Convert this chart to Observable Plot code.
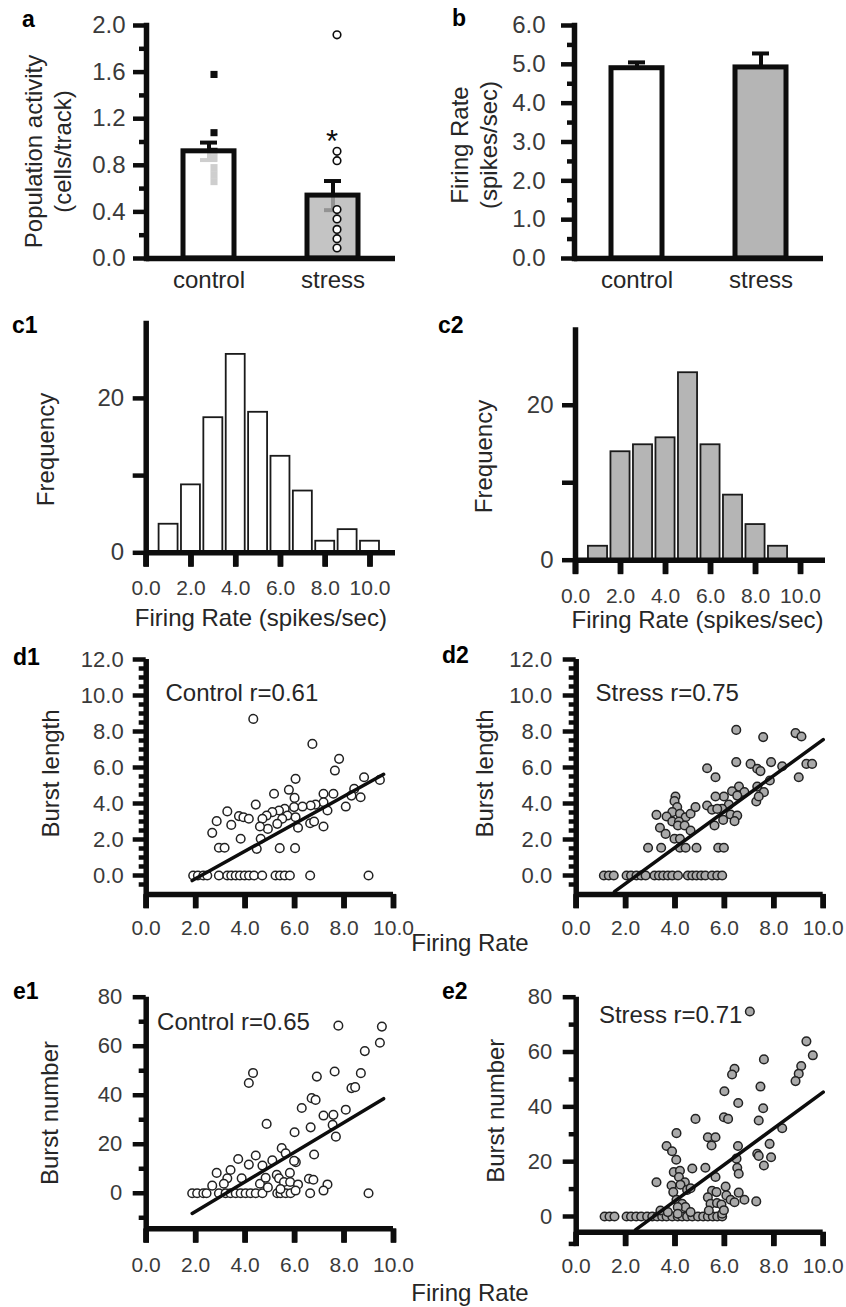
<!DOCTYPE html>
<html><head><meta charset="utf-8">
<script src="https://cdn.jsdelivr.net/npm/d3@7"></script>
<script src="https://cdn.jsdelivr.net/npm/@observablehq/plot@0.6"></script>
<style>
html,body{margin:0;padding:0;background:#fff;}
#fig{position:relative;width:846px;height:1307px;overflow:hidden;font-family:"Liberation Sans",Arial,Helvetica,sans-serif;}
.letter{position:absolute;font-weight:bold;font-size:23px;line-height:1;color:#000;}
.xlab{position:absolute;font-size:24px;line-height:1;color:#262626;white-space:nowrap;transform:translateX(-50%);}
</style></head><body><div id="fig"></div>
<script>
// ---------- data ----------
const groups = ["control", "stress"];
const activityMean = [0.92, 0.54];
const activitySem = [0.075, 0.125];
const activityControl = [1.58, 1.08, 0.92, 0.86, 0.78, 0.72, 0.66];
const activityStress = [1.92, 0.92, 0.84, 0.42, 0.34, 0.25, 0.17, 0.09];
const sigMark = "*";
const rateMean = [4.9, 4.92];
const rateSem = [0.15, 0.36];

const binEdges = [0.5, 1.5, 2.5, 3.5, 4.5, 5.5, 6.5, 7.5, 8.5, 9.5, 10.5];
const freqControl = [3.7, 8.8, 17.5, 25.7, 18.2, 12.5, 8.0, 1.5, 3.0, 1.5];
const freqStress = [1.8, 14.0, 14.9, 15.8, 24.2, 14.9, 8.4, 4.6, 1.8, 0];

// burst length vs firing rate
const d1Zero = [1.90,2.09,2.31,2.47,2.94,3.28,3.44,3.62,3.79,3.98,4.16,4.36,4.69,5.23,5.41,5.60,5.81,6.63,8.99];
const d1Control = [[4.33,8.70],[6.72,7.31],[7.80,6.48],[7.63,5.83],[8.81,5.46],[9.45,5.31],[6.04,5.37],[5.77,4.76],[5.17,4.54],[6.00,4.31],[4.43,3.94],[7.17,4.54],[7.57,4.54],[8.41,4.81],[8.30,4.44],[8.67,4.35],[8.07,3.83],[7.33,3.61],[7.17,4.07],[6.85,3.94],[6.65,3.89],[6.32,3.83],[5.98,3.80],[5.60,3.70],[5.37,3.61],[5.10,3.52],[4.87,3.33],[4.70,3.15],[5.71,3.33],[6.04,3.24],[5.50,3.15],[5.30,2.87],[4.92,2.59],[4.60,2.72],[6.14,2.65],[6.63,2.90],[6.79,3.00],[7.17,2.72],[3.28,3.56],[2.85,3.02],[2.67,2.37],[3.44,2.81],[3.75,3.30],[3.93,3.24],[4.15,3.15],[3.82,2.04],[2.94,1.54],[3.17,1.54],[4.47,1.48],[4.63,2.04],[5.40,1.52],[6.02,1.52]];
const d2Zero = [1.12,1.32,1.52,2.04,2.22,2.44,2.63,2.81,3.17,3.35,3.52,3.71,3.89,4.12,4.52,4.70,4.87,5.06,5.23,5.50,5.71,5.91];
const d2Stress = [[6.48,8.09],[7.57,7.69],[8.88,7.91],[9.12,7.72],[6.48,6.30],[7.06,6.20],[7.33,5.93],[7.46,5.80],[7.89,6.30],[8.34,6.07],[9.32,6.20],[9.55,6.20],[9.01,5.46],[5.30,5.96],[5.64,5.46],[7.33,4.94],[7.60,4.63],[7.29,4.11],[7.39,4.39],[7.84,5.28],[6.59,4.94],[6.31,4.68],[6.81,4.63],[6.52,4.44],[5.98,4.39],[5.64,4.39],[6.18,3.94],[5.91,3.70],[6.25,3.39],[6.52,3.33],[6.41,3.02],[5.30,3.89],[5.50,3.65],[5.71,3.70],[5.95,3.09],[5.60,2.78],[4.02,4.39],[3.98,4.13],[4.09,3.80],[3.89,3.52],[4.20,3.43],[4.43,3.24],[4.63,3.43],[4.83,3.80],[3.66,3.28],[3.25,3.37],[3.89,3.00],[4.16,3.00],[4.12,2.78],[4.39,2.78],[4.63,2.50],[3.39,2.65],[3.62,2.31],[3.98,2.04],[4.20,2.04],[2.91,1.54],[3.44,1.54],[4.20,1.54],[4.43,1.54],[4.87,1.54],[5.75,1.54],[5.98,1.54]];

// burst number vs firing rate
const e1Zero = [1.86,2.06,2.31,2.44,2.94,3.21,3.41,3.62,3.82,4.02,4.22,4.43,4.70,5.30,5.43,5.64,5.84,6.63,8.99];
const e1Control = [[7.77,68.4],[9.53,68.0],[9.45,61.4],[8.84,58.0],[8.68,49.0],[7.62,49.7],[6.90,47.6],[4.32,49.1],[4.15,45.0],[8.30,42.9],[8.45,43.3],[6.69,38.8],[6.85,38.1],[6.29,34.8],[8.07,34.1],[7.17,31.7],[7.57,32.0],[7.54,27.9],[7.67,23.1],[6.65,26.9],[6.00,24.9],[4.87,28.3],[6.79,15.8],[5.48,18.4],[5.64,16.3],[6.05,12.7],[5.98,13.2],[5.10,13.4],[4.70,11.3],[4.43,15.4],[4.15,11.7],[3.72,14.0],[3.41,9.5],[2.85,8.3],[3.28,6.1],[3.86,6.1],[2.67,3.1],[3.14,3.9],[4.60,3.9],[4.83,6.3],[5.28,7.5],[5.37,6.1],[5.81,8.3],[5.57,4.6],[5.82,4.6],[6.14,3.6],[6.58,5.9],[6.76,5.5],[7.33,3.6],[7.17,1.1],[4.92,2.4],[5.43,1.7],[6.04,1.1]];
const e2Zero = [1.15,1.35,1.55,2.04,2.22,2.43,2.63,2.87,3.08,3.28,3.48,3.66,3.89,4.11,4.29,4.49,4.70,4.93,5.14,5.33,5.53,5.71,5.91];
const e2Stress = [[9.32,63.9],[9.58,58.8],[9.11,54.9],[9.01,52.1],[8.88,49.4],[7.60,57.3],[6.41,53.9],[6.31,51.8],[7.46,47.4],[6.00,45.7],[6.56,41.4],[7.57,39.5],[5.98,36.2],[6.15,35.6],[7.39,35.0],[8.34,32.2],[4.83,35.6],[4.06,30.4],[5.33,28.9],[5.64,28.9],[5.48,25.9],[3.66,25.7],[3.88,23.8],[4.05,20.7],[6.55,25.7],[7.83,26.5],[7.33,22.9],[7.39,22.1],[7.89,21.6],[7.60,18.6],[6.49,21.1],[6.52,17.8],[6.58,15.6],[5.23,17.8],[4.70,17.5],[5.64,14.4],[3.95,16.2],[4.20,16.7],[4.16,14.4],[4.40,12.5],[4.22,11.6],[3.25,12.5],[3.86,11.3],[3.93,8.9],[4.49,9.7],[4.63,10.3],[6.05,10.9],[5.50,9.4],[5.68,8.9],[6.58,8.7],[6.81,6.1],[7.29,5.5],[6.08,7.7],[6.25,6.1],[6.41,5.2],[5.33,7.0],[5.44,4.6],[5.70,4.9],[5.88,4.4],[4.06,6.1],[4.29,4.6],[4.42,3.4],[4.11,3.4],[3.41,2.2],[3.71,1.6],[4.11,1.0],[4.63,1.6],[5.37,2.2],[5.91,1.0],[5.98,2.3],[7.03,74.8]];

// regression fits: [slope, intercept] and x extent
const d1Fit = [0.763, -1.70], d1FitRange = [1.86, 9.6];
const d2Fit = [1.0, -2.45], d2FitRange = [1.55, 10.0];
const e1Fit = [6.05, -19.5], e1FitRange = [1.86, 9.6];
const e2Fit = [6.62, -20.8], e2FitRange = [2.4, 10.0];

const notes = ["Control r=0.61", "Stress r=0.75", "Control r=0.65", "Stress r=0.71"];

// tick values
const ticksA = [0, 0.4, 0.8, 1.2, 1.6, 2.0], minorA = [0.2, 0.6, 1.0, 1.4, 1.8];
const ticksB = [0, 1, 2, 3, 4, 5, 6], minorB = [0.5, 1.5, 2.5, 3.5, 4.5, 5.5];
const ticksC = [0, 10, 20];
const ticksRate = [0, 2, 4, 6, 8, 10];
const ticksD = [0, 2, 4, 6, 8, 10, 12];
const minorD = d3.range(-0.5, 12, 0.5).filter(v => v % 2 !== 0);
const ticksE = [0, 20, 40, 60, 80], minorE = [-10, 10, 30, 50, 70];

// ---------- drawing ----------
const FONT = '"Liberation Sans", Arial, Helvetica, sans-serif';
const INK = "#0d0d0d", TT = "#3a3a3a", LAB = "#262626";
const AXW = 5.5, TKW = 4.5, XTICK = 14;
const GRAY = "#b5b5b5";
const fig = document.getElementById("fig");
const f1 = d3.format(".1f");

function mount(svg, left, top) {
  svg.style.position = "absolute";
  svg.style.left = left + "px";
  svg.style.top = top + "px";
  fig.appendChild(svg);
}
function opts(o) {
  return Object.assign({style: {fontFamily: FONT, background: "transparent", overflow: "visible"}, color: {type: "identity"}}, o);
}
function yAxisMarks(major, minor, fmt, fontSize, pad) {
  const m = [];
  if (minor) m.push(Plot.axisY({ticks: minor, tickSize: 7, tickFormat: () => "", stroke: INK, strokeWidth: TKW, label: null}));
  m.push(Plot.axisY({ticks: major, tickSize: 13, tickPadding: pad, tickFormat: fmt, stroke: INK, color: TT, strokeWidth: TKW, fontSize, label: null}));
  return m;
}
// x axis inside an extended frame: line at yMin; ticks hang from yMin down to the frame bottom (yBottom)
function xAxisInside(yMin, yBottom, pad) {
  return [
    Plot.ruleY([yMin], {stroke: INK, strokeWidth: AXW}),
    Plot.ruleX([0], {stroke: INK, strokeWidth: AXW}),
    Plot.axisX({ticks: ticksRate, tickSize: 0, tickPadding: pad, tickFormat: f1, color: TT, fontSize: 21, label: null}),
    Plot.link(ticksRate, {x1: d => d, x2: d => d, y1: yMin, y2: yBottom, stroke: INK, strokeWidth: AXW}),
    Plot.ruleX(ticksRate, {x: d => d, y1: yMin, y2: yBottom, stroke: INK, strokeWidth: AXW})
  ];
}
// extend the y domain below yMin by the tick length so ticks fall inside the frame
function extDomain([lo, hi], H, mt, mb) {
  const frame = H - mt - mb;
  const t = XTICK * (hi - lo) / frame;
  return {domain: [lo - t, hi], mb: mb - XTICK};
}
function yLabel(text, dx, dy) {
  return Plot.text([text], {text: d => d, frameAnchor: "left", rotate: -90, dx, dy, fontSize: 24, fill: LAB, lineHeight: 1.2, textAnchor: "middle", lineAnchor: "middle"});
}

// --- panel a / b: bar charts ---
function barPanel({mean, sem, major, minor, ylabel, lx, ly, pad, twoSided, ctrl, strs}) {
  const bars = groups.map((g, i) => ({g, m: mean[i], s: sem[i], fill: i === 0 ? "#fff" : GRAY}));
  const marks = [];
  if (ctrl) marks.push(Plot.dot(ctrl, {x: () => "control", y: d => d, symbol: "square", r: 4, fill: INK, stroke: "none", dx: 5}));
  marks.push(
    Plot.ruleX(bars, {x: "g", y1: d => twoSided ? d.m - d.s : d.m, y2: d => d.m + d.s, stroke: INK, strokeWidth: 4}),
    Plot.tickY(bars, {x: "g", y: d => d.m + d.s, stroke: INK, strokeWidth: 4, inset: 17}),
  );
  if (twoSided) marks.push(Plot.tickY(bars, {x: "g", y: d => d.m - d.s, stroke: INK, strokeWidth: 4, inset: 17}));
  marks.push(Plot.barY(bars, {x: "g", y: "m", fill: "fill", fillOpacity: ctrl ? 0.8 : 1, stroke: INK, strokeWidth: 5}));
  if (ctrl) marks.push(Plot.ruleX(bars, {x: "g", y1: d => d.m, y2: d => d.m + d.s, stroke: INK, strokeWidth: 4}));
  if (strs) marks.push(Plot.dot(strs, {x: () => "stress", y: d => d, r: 3.8, fill: "#fff", stroke: INK, strokeWidth: 1.6, dx: 4}));
  marks.push(
    ...yAxisMarks(major, minor, f1, 24, pad),
    Plot.axisX({tickSize: 0, tickPadding: 12, fontSize: 24, color: LAB, label: null}),
    Plot.ruleY([0], {stroke: INK, strokeWidth: AXW}),
    Plot.frame({anchor: "left", stroke: INK, strokeWidth: AXW}),
    yLabel(ylabel, lx, ly)
  );
  return marks;
}

const marksA = barPanel({mean: activityMean, sem: activitySem, major: ticksA, minor: minorA,
  ylabel: "Population activity\n(cells/track)", lx: -99, ly: 9.5, pad: 8, twoSided: true,
  ctrl: activityControl, strs: activityStress});
marksA.push(Plot.text([sigMark], {text: d => d, x: () => "stress", y: () => 1.0, fontSize: 31, fill: INK, dx: -1, lineAnchor: "middle"}));
mount(Plot.plot(opts({width: 420, height: 300, marginLeft: 146, marginRight: 25, marginTop: 25, marginBottom: 42,
  x: {domain: groups, paddingInner: 0.59, paddingOuter: 0.295}, y: {domain: [0, 2]}, marks: marksA})), 0, 0);

const marksB = barPanel({mean: rateMean, sem: rateSem, major: ticksB, minor: minorB,
  ylabel: "Firing Rate\n(spikes/sec)", lx: -101, ly: 3, pad: 16, twoSided: false});
mount(Plot.plot(opts({width: 426, height: 300, marginLeft: 154, marginRight: 23, marginTop: 25, marginBottom: 42,
  x: {domain: groups, paddingInner: 0.59, paddingOuter: 0.295}, y: {domain: [0, 6]}, marks: marksB})), 420, 0);

// --- panel c1 / c2: histograms ---
function histPanel({freq, fill, xMax, W, H, ml, mr, mt, mb, lx, ly, xlDx, xlDy}) {
  const bins = freq.map((f, i) => ({x1: binEdges[i], x2: binEdges[i + 1], f})).filter(d => d.f > 0);
  const ext = extDomain([0, 30], H, mt, mb);
  return Plot.plot(opts({width: W, height: H, marginLeft: ml, marginRight: mr, marginTop: mt, marginBottom: ext.mb,
    x: {domain: [0, xMax]}, y: {domain: ext.domain},
    marks: [
      Plot.rectY(bins, {x1: "x1", x2: "x2", y: "f", insetLeft: 1.7, insetRight: 1.7, fill, stroke: "#1a1a1a", strokeWidth: 1.8}),
      ...yAxisMarks(ticksC, null, d => (d % 20 === 0 ? String(d) : ""), 24, 9),
      yLabel("Frequency", lx, ly - XTICK / 2),
      Plot.text(["Firing Rate (spikes/sec)"], {text: d => d, frameAnchor: "bottom", dx: xlDx, dy: xlDy - XTICK, fontSize: 24, fill: LAB, lineAnchor: "middle"}),
      ...xAxisInside(0, ext.domain[0], 13.5)
    ]}));
}
mount(histPanel({freq: freqControl, fill: "#fff", xMax: 11.14, W: 420, H: 340, ml: 145.7, mr: 25, mt: 20.7, mb: 87.7, lx: -101.7, ly: 12.5, xlDx: -10, xlDy: 66}), 0, 300);
mount(histPanel({freq: freqStress, fill: GRAY, xMax: 11.11, W: 426, H: 340, ml: 155, mr: 21, mt: 27.3, mb: 80.3, lx: -93, ly: 12.5, xlDx: -3, xlDy: 60}), 420, 300);

// --- panels d / e: scatter with regression ---
function scatterPanel({zero, pts, fill, fit, fitRange, note, noteX, noteY, yDomain, major, minor, yFmt, ylabel, lx, ly, W, H, ml, mr, mt, mb, yPad, xPad}) {
  const data = zero.map(x => [x, 0]).concat(pts);
  const line = fitRange.map(x => ({x, y: fit[1] + fit[0] * x}));
  const ext = extDomain(yDomain, H, mt, mb);
  return Plot.plot(opts({width: W, height: H, marginLeft: ml, marginRight: mr, marginTop: mt, marginBottom: ext.mb,
    x: {domain: [0, 10]}, y: {domain: ext.domain},
    marks: [
      Plot.dot(data, {x: d => d[0], y: d => d[1], r: 4.3, fill, stroke: "#222", strokeWidth: 1.5}),
      Plot.line(line, {x: "x", y: "y", stroke: INK, strokeWidth: 3.5}),
      ...yAxisMarks(major, minor, yFmt, 22, yPad),
      Plot.text([note], {text: d => d, x: () => noteX, y: () => noteY, textAnchor: "start", lineAnchor: "middle", fontSize: 24, fill: LAB}),
      yLabel(ylabel, lx, ly - XTICK / 2),
      ...xAxisInside(yDomain[0], ext.domain[0], xPad)
    ]}));
}
mount(scatterPanel({zero: d1Zero, pts: d1Control, fill: "#fff", fit: d1Fit, fitRange: d1FitRange, note: notes[0], noteX: 0.78, noteY: 10.1,
  yDomain: [-1.05, 12], major: ticksD, minor: minorD, yFmt: f1, ylabel: "Burst length", lx: -96.7, ly: -3.5,
  W: 420, H: 310, ml: 145.7, mr: 27, mt: 19, mb: 56.1, yPad: 9.5, xPad: 12}), 0, 640);
mount(scatterPanel({zero: d2Zero, pts: d2Stress, fill: "#a9a9a9", fit: d2Fit, fitRange: d2FitRange, note: notes[1], noteX: 0.78, noteY: 10.1,
  yDomain: [-1.05, 12], major: ticksD, minor: minorD, yFmt: f1, ylabel: "Burst length", lx: -92.7, ly: -3.5,
  W: 426, H: 310, ml: 155.7, mr: 23.3, mt: 19, mb: 56.1, yPad: 11, xPad: 12}), 420, 640);
mount(scatterPanel({zero: e1Zero, pts: e1Control, fill: "#fff", fit: e1Fit, fitRange: e1FitRange, note: notes[2], noteX: 0.44, noteY: 69.8,
  yDomain: [-14.5, 80], major: ticksE, minor: minorE, yFmt: d => String(d), ylabel: "Burst number", lx: -97.7, ly: 0,
  W: 420, H: 357, ml: 145.7, mr: 27, mt: 46.7, mb: 78.7, yPad: 11, xPad: 14}), 0, 950);
mount(scatterPanel({zero: e2Zero, pts: e2Stress, fill: "#a9a9a9", fit: e2Fit, fitRange: e2FitRange, note: notes[3], noteX: 0.92, noteY: 73.4,
  yDomain: [-5.73, 80], major: ticksE, minor: minorE, yFmt: d => String(d), ylabel: "Burst number", lx: -81.7, ly: -4,
  W: 426, H: 357, ml: 155.7, mr: 23.3, mt: 46.7, mb: 75.3, yPad: 11, xPad: 12}), 420, 950);

// --- panel letters and shared x labels ---
const letters = [["a", 22, 7.5], ["b", 452, 7], ["c1", 12, 314], ["c2", 438, 313.5], ["d1", 13, 645.5], ["d2", 442, 644], ["e1", 13, 980], ["e2", 442, 980]];
for (const [t, l, tp] of letters) {
  const s = document.createElement("div");
  s.className = "letter"; s.textContent = t; s.style.left = l + "px"; s.style.top = tp + "px";
  fig.appendChild(s);
}
for (const tp of [931, 1281]) {
  const s = document.createElement("div");
  s.className = "xlab"; s.textContent = "Firing Rate"; s.style.left = "470px"; s.style.top = tp + "px";
  fig.appendChild(s);
}
</script></body></html>
